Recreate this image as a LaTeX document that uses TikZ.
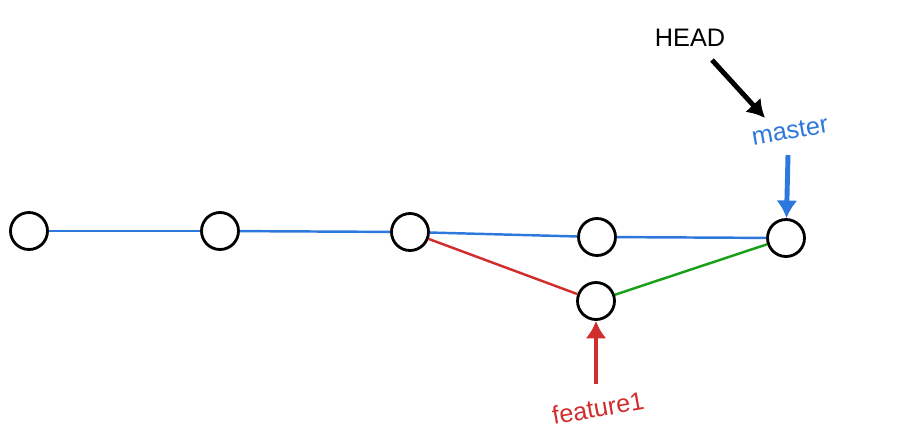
\documentclass[tikz,border=0pt]{standalone}
\usepackage{fontspec}
\setmainfont{Liberation Sans}
\usetikzlibrary{arrows.meta}
\definecolor{gitblue}{RGB}{45,120,220}
\definecolor{gitred}{RGB}{210,45,45}
\definecolor{gitgreen}{RGB}{25,160,25}
\tikzset{
  commit/.style={circle, draw=black, line width=1.6pt, fill=white, minimum size=0.74cm, inner sep=0pt},
  branchline/.style={line width=1.4pt},
  pointer/.style={line width=2.8pt, -{Latex[length=10pt, width=12pt]}}
}

\begin{document}
\begin{tikzpicture}[x=0.02cm, y=-0.02cm]
    \useasboundingbox (0,0) rectangle (919,447);
    % Commits on master
    \node[commit] (c1) at (29, 231) {};
    \node[commit] (c2) at (220, 231) {};
    \node[commit] (c3) at (410, 232) {};
    \node[commit] (c4) at (597, 237) {};
    \node[commit] (c5) at (786, 238) {};
    % Commit on feature1
    \node[commit] (f1) at (596, 301) {};

    % History lines
    \draw[branchline, gitblue] (c1) -- (c2);
    \draw[branchline, gitblue] (c2) -- (c3);
    \draw[branchline, gitblue] (c3) -- (c4);
    \draw[branchline, gitblue] (c4) -- (c5);
    \draw[branchline, gitred] (c3) -- (f1);
    \draw[branchline, gitgreen] (f1) -- (c5);

    % Labels
    \node[font=\Large] (head) at (690, 38) {HEAD};
    \node[font=\Large, gitblue, rotate=10] (master) at (790, 131) {master};
    \node[font=\Large, gitred, rotate=10] (feature) at (598, 408) {feature1};

    % Pointers
    \draw[pointer, black] (712, 60) -- (765, 118);
    \draw[pointer, gitblue] (master) ++(-2, 24) -- (c5);
    \draw[pointer, gitred] (feature) ++(-2, -24) -- (f1);
\end{tikzpicture}
\end{document}
